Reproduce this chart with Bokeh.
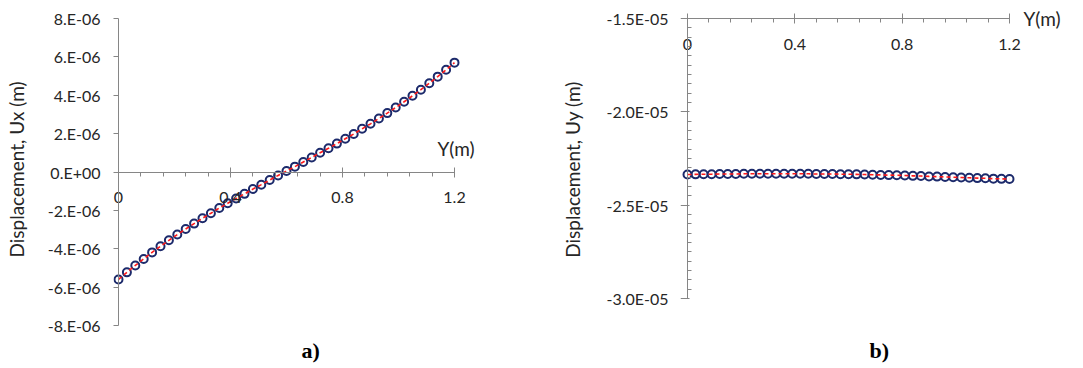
import numpy as np
from bokeh.plotting import figure
from bokeh.layouts import row
from bokeh.models import FixedTicker, Label, Range1d, LinearAxis, Title
from bokeh.embed import file_html
from bokeh.resources import INLINE

# ---------------- data ----------------
y_pos = [0.00, 0.03, 0.06, 0.09, 0.12, 0.15, 0.18, 0.21, 0.24, 0.27,
         0.30, 0.33, 0.36, 0.39, 0.42, 0.45, 0.48, 0.51, 0.54, 0.57,
         0.60, 0.63, 0.66, 0.69, 0.72, 0.75, 0.78, 0.81, 0.84, 0.87,
         0.90, 0.93, 0.96, 0.99, 1.02, 1.05, 1.08, 1.11, 1.14, 1.17, 1.20]

ux = [-5.60e-6, -5.23e-6, -4.87e-6, -4.53e-6, -4.19e-6, -3.87e-6, -3.56e-6, -3.26e-6, -2.97e-6, -2.69e-6,
      -2.41e-6, -2.15e-6, -1.88e-6, -1.63e-6, -1.38e-6, -1.14e-6, -0.89e-6, -0.66e-6, -0.42e-6, -0.18e-6,
      0.05e-6, 0.28e-6, 0.52e-6, 0.76e-6, 1.00e-6, 1.24e-6, 1.48e-6, 1.73e-6, 1.98e-6, 2.25e-6,
      2.51e-6, 2.79e-6, 3.07e-6, 3.36e-6, 3.66e-6, 3.97e-6, 4.29e-6, 4.63e-6, 4.97e-6, 5.33e-6, 5.70e-6]

uy = [-2.336e-5, -2.335e-5, -2.334e-5, -2.334e-5, -2.333e-5, -2.333e-5, -2.333e-5, -2.332e-5, -2.332e-5, -2.332e-5,
      -2.332e-5, -2.332e-5, -2.332e-5, -2.332e-5, -2.332e-5, -2.332e-5, -2.333e-5, -2.333e-5, -2.333e-5, -2.334e-5,
      -2.334e-5, -2.335e-5, -2.336e-5, -2.337e-5, -2.338e-5, -2.339e-5, -2.340e-5, -2.341e-5, -2.343e-5, -2.344e-5,
      -2.346e-5, -2.347e-5, -2.349e-5, -2.350e-5, -2.352e-5, -2.353e-5, -2.355e-5, -2.356e-5, -2.358e-5, -2.359e-5,
      -2.360e-5]

x_ticks = [0, 0.4, 0.8, 1.2]
x_tick_labels = ["0", "0.4", "0.8", "1.2"]
ux_ticks = [-8e-6, -6e-6, -4e-6, -2e-6, 0.0, 2e-6, 4e-6, 6e-6, 8e-6]
ux_tick_labels = ["-8.E-06", "-6.E-06", "-4.E-06", "-2.E-06", "0.E+00", "2.E-06", "4.E-06", "6.E-06", "8.E-06"]
uy_ticks = [-3.0e-5, -2.5e-5, -2.0e-5, -1.5e-5]
uy_tick_labels = ["-3.0E-05", "-2.5E-05", "-2.0E-05", "-1.5E-05"]

# ---------------- style ----------------
FONT = "Lato"
FS_TICK = "16px"
FS_TITLE = "19px"
AX_COL = "#868686"
TXT_COL = "#262626"
MK_COL = "#1c2a6b"
LN_COL = "#ff1a1a"
SCALE = 1e6  # plot displacements in micro-metres
FRAME_TOP, FRAME_BOT = 6, 332  # shared by both panels (row aligns them)


def minor_between(ticks, n):
    out = []
    for a, b in zip(ticks[:-1], ticks[1:]):
        out += list(np.linspace(a, b, n + 1)[1:-1])
    return out


def style_text(ax):
    ax.major_label_text_font = FONT
    ax.major_label_text_font_size = FS_TICK
    ax.major_label_text_color = TXT_COL
    ax.axis_label_text_font = FONT
    ax.axis_label_text_font_size = FS_TITLE
    ax.axis_label_text_font_style = "normal"
    ax.axis_label_text_color = TXT_COL


def style_line(ax):
    ax.axis_line_color = AX_COL
    ax.axis_line_width = 1
    ax.major_tick_line_color = AX_COL
    ax.minor_tick_line_color = AX_COL


def base_fig(width, xs, xe, yb, yt, left, right):
    p = figure(width=width, height=368, output_backend="svg", toolbar_location=None,
               x_range=Range1d(xs, xe), y_range=Range1d(yb, yt),
               x_axis_location="above", y_axis_location="left",
               min_border_left=left, min_border_right=width - right,
               min_border_top=FRAME_TOP, min_border_bottom=368 - FRAME_BOT)
    p.outline_line_color = None
    p.grid.visible = False
    p.background_fill_color = "white"
    p.border_fill_color = "white"
    return p


def x_axis_setup(ax, loc):
    style_line(ax)
    style_text(ax)
    ax.fixed_location = loc
    ax.bounds = (0, 1.2)
    ax.ticker = FixedTicker(ticks=x_ticks, minor_ticks=minor_between(x_ticks, 5))
    ax.major_label_overrides = {t: l for t, l in zip(x_ticks, x_tick_labels)}
    ax.major_tick_in = 5
    ax.major_tick_out = 5
    ax.minor_tick_in = 4
    ax.minor_tick_out = 0
    ax.major_label_standoff = -36  # labels sit below the line, as in the original


def label_axis_setup(ax, ticks, labels, title, standoff, title_standoff):
    style_text(ax)
    ax.axis_line_color = None
    ax.major_tick_line_color = None
    ax.minor_tick_line_color = None
    ax.major_tick_in = 0
    ax.major_tick_out = 0
    ax.ticker = FixedTicker(ticks=ticks, minor_ticks=[])
    ax.major_label_overrides = {t: l for t, l in zip(ticks, labels)}
    ax.major_label_standoff = standoff
    ax.axis_label = title
    ax.axis_label_standoff = title_standoff


def panel_title(text, offset):
    return Title(text=text, align="left", offset=offset, standoff=6,
                 text_font="Liberation Serif", text_font_size="22px",
                 text_font_style="bold", text_color="black")


# ================= left chart (a) =================
pxu_l = 280.0
pyu_l = 307.0 / 16.0
fl_left, fl_right = 113, 490
xs_l = -(118 - fl_left) / pxu_l
xe_l = xs_l + (fl_right - fl_left) / pxu_l
yt_l = 8 + (18 - FRAME_TOP) / pyu_l
yb_l = -8 - (FRAME_BOT - 325) / pyu_l

p1 = base_fig(540, xs_l, xe_l, yb_l, yt_l, fl_left, fl_right)

ux_s = [v * SCALE for v in ux]
p1.scatter(y_pos, ux_s, marker="circle", size=8, fill_color=None,
           line_color=MK_COL, line_width=2)
p1.line(y_pos, ux_s, line_color=LN_COL, line_width=1.6, line_dash="4 3")

x_axis_setup(p1.xaxis[0], 0)

uxt = [round(t * SCALE) for t in ux_ticks]
label_axis_setup(p1.yaxis[0], uxt, ux_tick_labels, "Displacement, Ux (m)", 13, 17)

ya_line = LinearAxis(fixed_location=0, bounds=(-8, 8),
                     ticker=FixedTicker(ticks=uxt, minor_ticks=[]),
                     major_label_text_font_size="0px", major_label_text_alpha=0)
style_line(ya_line)
ya_line.major_tick_in = 6
ya_line.major_tick_out = 0
ya_line.minor_tick_in = 0
ya_line.minor_tick_out = 0
p1.add_layout(ya_line, "right")

p1.add_layout(Label(x=(437 - 118) / pxu_l, y=8 - (148 - 18) / pyu_l, text="Y(m)",
                    text_font=FONT, text_font_size=FS_TITLE, text_color=TXT_COL,
                    text_align="left", text_baseline="middle"))
p1.add_layout(panel_title("a)", 310 - fl_left - 9), "below")

# ================= right chart (b) =================
pxu_r = 322.0 / 1.2
pyu_r = 280.0 / 15.0
fr_left, fr_right = 140, 540
xs_r = -(147 - fr_left) / pxu_r
xe_r = xs_r + (fr_right - fr_left) / pxu_r
yt_r = -15 + (18 - FRAME_TOP) / pyu_r
yb_r = -30 - (FRAME_BOT - 298) / pyu_r

p2 = base_fig(543, xs_r, xe_r, yb_r, yt_r, fr_left, fr_right)

uy_s = [v * SCALE for v in uy]
p2.scatter(y_pos, uy_s, marker="circle", size=8, fill_color=None,
           line_color=MK_COL, line_width=2)
p2.line(y_pos, uy_s, line_color=LN_COL, line_width=1.6, line_dash="4 3")

x_axis_setup(p2.xaxis[0], -15)

uyt = [round(t * SCALE) for t in uy_ticks]
label_axis_setup(p2.yaxis[0], uyt, uy_tick_labels, "Displacement, Uy (m)", 12, 19)

yb_line = LinearAxis(fixed_location=0, bounds=(-30, -15),
                     ticker=FixedTicker(ticks=uyt, minor_ticks=minor_between(uyt, 10)),
                     major_label_text_font_size="0px", major_label_text_alpha=0)
style_line(yb_line)
yb_line.major_tick_in = 7
yb_line.major_tick_out = 2
yb_line.minor_tick_in = 0
yb_line.minor_tick_out = 4
p2.add_layout(yb_line, "right")

p2.add_layout(Label(x=(1023 - 540 - 147) / pxu_r, y=-15, text="Y(m)",
                    text_font=FONT, text_font_size=FS_TITLE, text_color=TXT_COL,
                    text_align="left", text_baseline="middle"))
p2.add_layout(panel_title("b)", (878 - 540) - fr_left - 9), "below")

layout = row(p1, p2)
open("out.html", "w").write(file_html(layout, INLINE))
